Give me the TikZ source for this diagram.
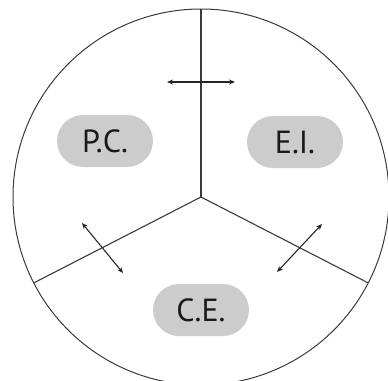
\documentclass[tikz,border=0pt]{standalone}
\usepackage{fontspec}
\newfontfamily\pillfont{PT Sans}
\usetikzlibrary{arrows.meta}
\definecolor{pillgray}{HTML}{CCCCCC}
\definecolor{linegray}{HTML}{3A3A3A}
\tikzset{
  pill/.style={fill=pillgray, draw=none, rounded corners=26pt, minimum width=96pt, minimum height=52pt, inner sep=0pt, font=\pillfont\fontsize{32}{32}\selectfont, text=black!90},
  spoke/.style={draw=linegray, line width=1.1pt},
  rim/.style={draw=linegray, line width=1pt},
  dblarrow/.style={draw=black!85, line width=1.1pt, {Stealth[length=6pt,width=5pt]}-{Stealth[length=6pt,width=5pt]}}
}
\begin{document}
\begin{tikzpicture}[x=1pt,y=-1pt]
\useasboundingbox (0,0) rectangle (388,380);
\coordinate (c) at (201,197);
\coordinate (top) at (201,9);
\coordinate (left) at (33.8,282.9);
\coordinate (right) at (368.2,282.9);
\draw[rim] (c) circle[radius=188];
\draw[spoke] (c) -- (top);
\draw[spoke] (c) -- (left);
\draw[spoke] (c) -- (right);
\node[pill] (pc) at (105,141) {P.C.};
\node[pill] (ei) at (295,142) {E.I.};
\node[pill] (ce) at (201,310) {C.E.};
\coordinate (a1s) at (167,82);
\coordinate (a1e) at (235,82);
\coordinate (a2s) at (82,223);
\coordinate (a2e) at (123,273);
\coordinate (a3s) at (322,224);
\coordinate (a3e) at (277,272);
\draw[dblarrow] (a1s) -- (a1e);
\draw[dblarrow] (a2s) -- (a2e);
\draw[dblarrow] (a3s) -- (a3e);
\end{tikzpicture}
\end{document}
